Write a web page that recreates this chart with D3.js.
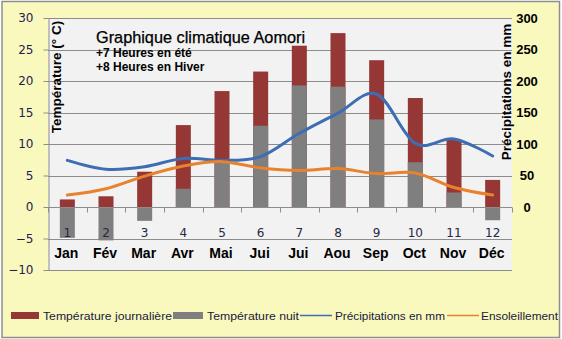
<!DOCTYPE html>
<html><head><meta charset="utf-8">
<script src="https://cdn.jsdelivr.net/npm/d3@7"></script>
<style>
html,body{margin:0;padding:0;background:#fff;}
svg{display:block;}
</style></head>
<body>
<svg id="c" width="562" height="339"></svg>
<script>
// ---- data ----
const months = ["Jan","Fév","Mar","Avr","Mai","Jui","Jui","Aou","Sep","Oct","Nov","Déc"];
const monthNums = ["1","2","3","4","5","6","7","8","9","10","11","12"];
const tempDay = [1.2, 1.7, 5.6, 13.0, 18.4, 21.5, 25.6, 27.6, 23.3, 17.3, 10.7, 4.3];
const tempNight = [-4.9, -5.3, -2.2, 2.9, 7.4, 12.9, 19.3, 19.1, 13.9, 7.1, 2.3, -2.1];
const precip = [74, 60, 64, 77, 74, 80, 117, 149, 179, 101, 108, 81];
const sunshine = [19, 29, 49, 65, 72, 62, 58, 61, 53, 54, 31, 19];
const leftTicks = [-10, -5, 0, 5, 10, 15, 20, 25, 30];
const rightTicks = [0, 50, 100, 150, 200, 250, 300];
const legendLabels = ["Température journalière","Température nuit","Précipitations en mm","Ensoleillement"];

const svg = d3.select("#c");
const L = 48, R = 512, T = 18, B = 270;
const C = {bg:"#F9F9BE", plot:"#F2F2F2", grid:"#8C8C8C", red:"#953735", gray:"#7F7F7F",
           blue:"#3D6DB3", orange:"#E8822E", navy:"#1F2050"};

// background & border
svg.append("rect").attr("x",0).attr("y",0).attr("width",562).attr("height",339).attr("fill","#fff");
svg.append("rect").attr("x",2).attr("y",1.5).attr("width",557.5).attr("height",336).attr("fill",C.bg)
   .attr("stroke","#8E8E8E").attr("stroke-width",1.5);
svg.append("rect").attr("x",L).attr("y",T).attr("width",R-L).attr("height",B-T).attr("fill",C.plot);

const idx = d3.range(12);
const x = d3.scaleBand().domain(idx).range([L,R]).paddingInner(0.612).paddingOuter(0.306);
const cx = i => x(i) + x.bandwidth()/2;
const yL = d3.scaleLinear().domain([-10,30]).range([B,T]);
const yR = d3.scaleLinear().domain([-100,300]).range([B,T]);

// gridlines
svg.append("g").selectAll("line").data(leftTicks).join("line")
  .attr("x1",L).attr("x2",R).attr("y1",d=>Math.round(yL(d))+0.5).attr("y2",d=>Math.round(yL(d))+0.5)
  .attr("stroke",C.grid).attr("stroke-width",1);

// bars: day (red) then night (gray) overlapped
svg.append("g").selectAll("rect").data(idx).join("rect")
  .attr("x",i=>x(i)).attr("width",x.bandwidth())
  .attr("y",i=>Math.min(yL(tempDay[i]),yL(0))).attr("height",i=>Math.abs(yL(tempDay[i])-yL(0)))
  .attr("fill",C.red);
svg.append("g").selectAll("rect").data(idx).join("rect")
  .attr("x",i=>x(i)).attr("width",x.bandwidth())
  .attr("y",i=>Math.min(yL(tempNight[i]),yL(0))).attr("height",i=>Math.abs(yL(tempNight[i])-yL(0)))
  .attr("fill",C.gray);

// x axis line at 0 with ticks at category boundaries
const y0 = Math.round(yL(0))+0.5;
svg.append("line").attr("x1",L).attr("x2",R).attr("y1",y0).attr("y2",y0).attr("stroke",C.grid);
svg.append("g").selectAll("line").data(d3.range(13)).join("line")
  .attr("x1",i=>Math.round(L+i*x.step())+0.5).attr("x2",i=>Math.round(L+i*x.step())+0.5)
  .attr("y1",y0).attr("y2",y0+5).attr("stroke",C.grid);

// left axis
const gl = svg.append("g").attr("transform",`translate(${L+0.5},0)`)
  .call(d3.axisLeft(yL).tickValues(leftTicks).tickSize(5).tickSizeOuter(0).tickPadding(10));
gl.select(".domain").attr("stroke",C.grid);
gl.selectAll(".tick line").attr("stroke",C.grid);
gl.selectAll(".tick text").attr("font-family","DejaVu Sans").attr("font-size",12).attr("fill",C.navy);

// right axis labels
const gr = svg.append("g").attr("transform",`translate(527,0)`)
  .call(d3.axisRight(yR).tickValues(rightTicks).tickSize(0).tickPadding(0));
gr.select(".domain").remove();
gr.selectAll(".tick text").attr("text-anchor","middle").attr("font-family","Liberation Sans, Arial")
  .attr("font-weight","bold").attr("font-size",13).attr("fill","#000");

// lines
const curve = d3.curveCardinal.tension(0);
const lineP = d3.line().x(i=>cx(i)).y(i=>yR(precip[i])).curve(curve);
const lineS = d3.line().x(i=>cx(i)).y(i=>yR(sunshine[i])).curve(curve);
svg.append("path").attr("d",lineP(idx)).attr("fill","none").attr("stroke",C.blue).attr("stroke-width",3).attr("stroke-linecap","round");
svg.append("path").attr("d",lineS(idx)).attr("fill","none").attr("stroke",C.orange).attr("stroke-width",3).attr("stroke-linecap","round");

// month numbers and names
svg.append("g").selectAll("text").data(idx).join("text")
  .attr("x",i=>cx(i)).attr("y",237).attr("text-anchor","middle")
  .attr("font-family","DejaVu Sans").attr("font-size",12).attr("fill","#262645")
  .text(i=>monthNums[i]);
svg.append("g").selectAll("text").data(idx).join("text")
  .attr("x",i=>cx(i)-1).attr("y",258).attr("text-anchor","middle")
  .attr("font-family","Liberation Sans, Arial").attr("font-weight","bold").attr("font-size",14).attr("fill","#000")
  .text(i=>months[i]);

// titles
svg.append("text").attr("x",96).attr("y",43).attr("font-family","Liberation Sans, Arial").attr("font-size",16.3)
  .attr("fill","#000").attr("stroke","#000").attr("stroke-width",0.25).text("Graphique climatique Aomori");
svg.append("text").attr("x",96).attr("y",57).attr("font-family","Liberation Sans, Arial").attr("font-size",12)
  .attr("font-weight","bold").attr("fill","#000").text("+7 Heures en été");
svg.append("text").attr("x",96).attr("y",71).attr("font-family","Liberation Sans, Arial").attr("font-size",12)
  .attr("font-weight","bold").attr("fill","#000").text("+8 Heures en Hiver");
svg.append("text").attr("transform","translate(61,77) rotate(-90)").attr("text-anchor","middle")
  .attr("font-family","Liberation Sans, Arial").attr("font-size",13.5).attr("font-weight","bold").attr("fill","#000")
  .text("Température (° C)");
svg.append("text").attr("transform","translate(511,92) rotate(-90)").attr("text-anchor","middle")
  .attr("font-family","Liberation Sans, Arial").attr("font-size",13.5).attr("font-weight","bold").attr("fill","#000")
  .text("Précipitations en mm");

// legend
const lg = svg.append("g").attr("font-family","Liberation Sans, Arial").attr("font-size",11).attr("fill","#1A1A3C");
const ly = 315.5;
lg.append("rect").attr("x",11).attr("y",ly-3.5).attr("width",28).attr("height",7).attr("fill",C.red);
lg.append("text").attr("x",43).attr("y",ly+4).attr("textLength",129).attr("lengthAdjust","spacingAndGlyphs").text(legendLabels[0]);
lg.append("rect").attr("x",173).attr("y",ly-3.5).attr("width",30).attr("height",7).attr("fill",C.gray);
lg.append("text").attr("x",207).attr("y",ly+4).attr("textLength",92).attr("lengthAdjust","spacingAndGlyphs").text(legendLabels[1]);
lg.append("line").attr("x1",300).attr("x2",332).attr("y1",ly).attr("y2",ly).attr("stroke",C.blue).attr("stroke-width",1.5);
lg.append("text").attr("x",335).attr("y",ly+4).attr("textLength",110).attr("lengthAdjust","spacingAndGlyphs").text(legendLabels[2]);
lg.append("line").attr("x1",447).attr("x2",479).attr("y1",ly).attr("y2",ly).attr("stroke",C.orange).attr("stroke-width",1.5);
lg.append("text").attr("x",481).attr("y",ly+4).attr("textLength",77).attr("lengthAdjust","spacingAndGlyphs").text(legendLabels[3]);
</script>
</body></html>
